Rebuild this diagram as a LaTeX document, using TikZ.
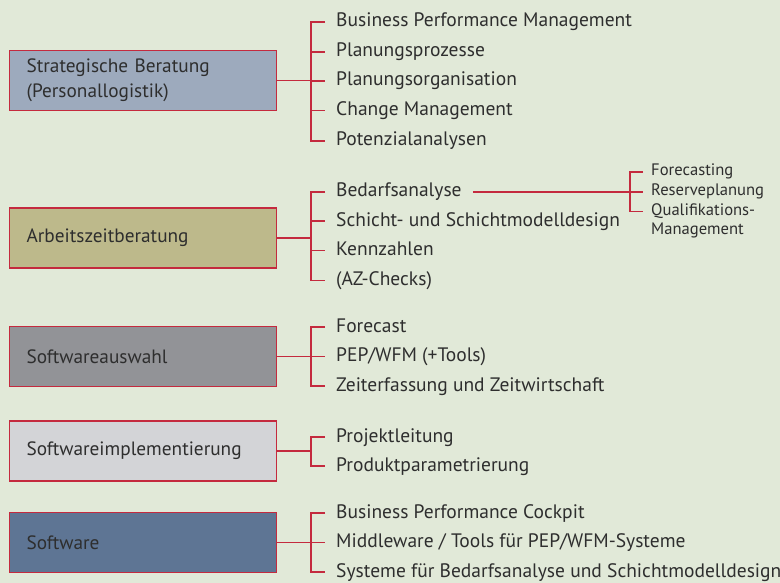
\documentclass[tikz,border=0pt]{standalone}
\usepackage{fontspec}
\setmainfont{PT Sans}
\usepackage{xcolor}
\usepackage{tikz}
\usetikzlibrary{positioning, calc}
\definecolor{bgreen}{HTML}{E1E9D8}
\definecolor{linered}{HTML}{C42A3E}
\definecolor{textgrey}{HTML}{2E2E2E}
\definecolor{fillblue}{HTML}{9DAABD}
\definecolor{fillkhaki}{HTML}{BDB98B}
\definecolor{fillgrey}{HTML}{929397}
\definecolor{filllight}{HTML}{D3D4D7}
\definecolor{filldark}{HTML}{5E7594}
\tikzstyle{area} = [rectangle, draw=linered, line width=1.2pt, anchor=west, minimum width=267pt, minimum height=60pt, text width=233pt, inner xsep=17pt, align=left, text=textgrey, font=\fontsize{19.3}{25}\selectfont]
\tikzstyle{item} = [anchor=west, inner xsep=11pt, inner ysep=0pt, text height=14pt, text depth=4pt, text=textgrey, font=\fontsize{19.5}{25}\selectfont]
\tikzstyle{subitem} = [anchor=west, inner xsep=8pt, inner ysep=0pt, text height=11pt, text depth=3pt, text=textgrey, font=\fontsize{16.6}{19}\selectfont]
\tikzstyle{link} = [draw=linered, line width=1.4pt]

\begin{document}
\begin{tikzpicture}[x=1pt, y=-1pt]
    \useasboundingbox (0,0) rectangle (780,583);
    \fill[bgreen] (0,0) rectangle (780,583);

    % Bereiche
    \node (beratung) [area, fill=fillblue] at (9,80.5) {Strategische Beratung\\(Personallogistik)};
    \node (arbeitszeit) [area, fill=fillkhaki] at (9,238) {Arbeitszeitberatung};
    \node (auswahl) [area, fill=fillgrey] at (9,356.5) {Softwareauswahl};
    \node (implement) [area, fill=filllight] at (9,451) {Softwareimplementierung};
    \node (software) [area, fill=filldark] at (9,542.5) {Software};

    % Leistungen
    \node (ber1) [item] at (325,22) {Business Performance Management};
    \node (ber2) [item] at (325,52) {Planungsprozesse};
    \node (ber3) [item] at (325,81) {Planungsorganisation};
    \node (ber4) [item] at (325,110.5) {Change Management};
    \node (ber5) [item] at (325,141) {Potenzialanalysen};

    \node (az1) [item] at (325,192) {Bedarfsanalyse};
    \node (az2) [item] at (325,221) {Schicht- und Schichtmodelldesign};
    \node (az3) [item] at (325,250.5) {Kennzahlen};
    \node (az4) [item] at (325,280.5) {(AZ-Checks)};

    \node (aus1) [item] at (325,327) {Forecast};
    \node (aus2) [item] at (325,356.5) {PEP/WFM (+Tools)};
    \node (aus3) [item] at (325,386) {Zeiterfassung und Zeitwirtschaft};

    \node (imp1) [item] at (325,437) {Projektleitung};
    \node (imp2) [item] at (325,466) {Produktparametrierung};

    \node (sw1) [item] at (325,513) {Business Performance Cockpit};
    \node (sw2) [item] at (325,542.5) {Middleware / Tools für PEP/WFM-Systeme};
    \node (sw3) [item] at (325,572) {Systeme für Bedarfsanalyse und Schichtmodelldesign};

    % Bedarfsanalyse im Detail
    \node (bed1) [subitem] at (643,172) {Forecasting};
    \node (bed2) [subitem] at (643,192) {Reserveplanung};
    \node (bed3) [subitem] at (643,211.5) {Qualifikations-};
    \node (bedm) [subitem] at (643,231) {Management};

    % Verzweigungen
    \coordinate (berS) at (311,80.5);
    \coordinate (azS) at (311,238);
    \coordinate (ausS) at (311,356.5);
    \coordinate (impS) at (311,451);
    \coordinate (swS) at (311,542.5);
    \coordinate (bedS) at (630,192);

    \draw [link] (beratung.east) -- (beratung.east -| berS);
    \draw [link] (ber1.west) -- (ber1.west -| berS) -- (ber5.west -| berS) -- (ber5.west);
    \draw [link] (ber2.west -| berS) -- (ber2.west);
    \draw [link] (ber3.west -| berS) -- (ber3.west);
    \draw [link] (ber4.west -| berS) -- (ber4.west);

    \draw [link] (arbeitszeit.east) -- (arbeitszeit.east -| azS);
    \draw [link] (az1.west) -- (az1.west -| azS) -- (az4.west -| azS) -- (az4.west);
    \draw [link] (az2.west -| azS) -- (az2.west);
    \draw [link] (az3.west -| azS) -- (az3.west);

    \draw [link] (auswahl.east) -- (auswahl.east -| ausS);
    \draw [link] (aus1.west) -- (aus1.west -| ausS) -- (aus3.west -| ausS) -- (aus3.west);
    \draw [link] (aus2.west -| ausS) -- (aus2.west);

    \draw [link] (implement.east) -- (implement.east -| impS);
    \draw [link] (imp1.west) -- (imp1.west -| impS) -- (imp2.west -| impS) -- (imp2.west);

    \draw [link] (software.east) -- (software.east -| swS);
    \draw [link] (sw1.west) -- (sw1.west -| swS) -- (sw3.west -| swS) -- (sw3.west);
    \draw [link] (sw2.west -| swS) -- (sw2.west);

    \draw [link] (az1.east) -- (bedS);
    \draw [link] (bed1.west) -- (bed1.west -| bedS) -- (bed3.west -| bedS) -- (bed3.west);
    \draw [link] (bed2.west -| bedS) -- (bed2.west);
\end{tikzpicture}
\end{document}
